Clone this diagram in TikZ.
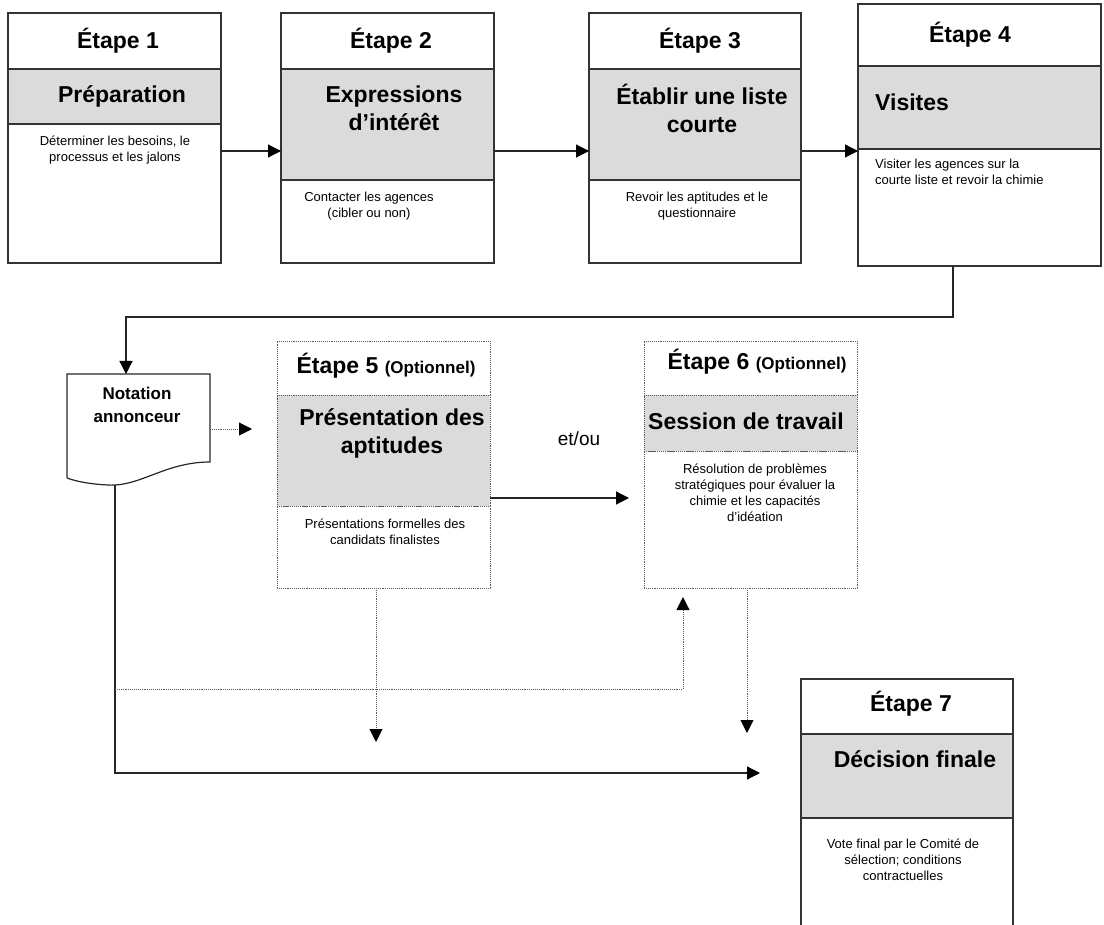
\documentclass[tikz,border=0pt]{standalone}
\usepackage{fontspec}
\setmainfont{Liberation Sans}
\usetikzlibrary{arrows.meta,positioning}

\begin{document}
\begin{tikzpicture}[x=1pt,y=-1pt,
    >={Triangle[length=13pt,width=13pt,color=black]},
    part/.style={draw=black!80, line width=1.2pt, rectangle, inner sep=0pt, outer sep=0pt, minimum width=213pt},
    optpart/.style={part, draw=black!65, line width=0.9pt, densely dotted},
    shade/.style={fill=black!14},
    stagelbl/.style={font=\fontsize{23}{28}\selectfont\bfseries, inner sep=0pt, align=center},
    desclbl/.style={font=\fontsize{13}{16}\selectfont, inner sep=0pt, align=center},
    flow/.style={draw=black!85, line width=1.2pt},
    optflow/.style={draw=black!65, line width=0.9pt, densely dotted}]
\useasboundingbox (0,0) rectangle (1104,925);
\clip (0,0) rectangle (1104,925);

\node[part, anchor=north west, minimum height=56pt] (h1) at (8,13) {};
\node[part, shade, minimum height=55pt, below=0pt of h1] (t1) {};
\node[part, minimum height=139pt, below=0pt of t1] (d1) {};
\node[part, anchor=north west, minimum height=56pt] (h2) at (281,13) {};
\node[part, shade, minimum height=111pt, below=0pt of h2] (t2) {};
\node[part, minimum height=83pt, below=0pt of t2] (d2) {};
\node[part, anchor=north west, minimum height=56pt, minimum width=212pt] (h3) at (589,13) {};
\node[part, shade, minimum height=111pt, minimum width=212pt, below=0pt of h3] (t3) {};
\node[part, minimum height=83pt, minimum width=212pt, below=0pt of t3] (d3) {};
\node[part, anchor=north west, minimum height=62pt, minimum width=243pt] (h4) at (858,4) {};
\node[part, shade, minimum height=83pt, minimum width=243pt, below=0pt of h4] (t4) {};
\node[part, minimum height=117pt, minimum width=243pt, below=0pt of t4] (d4) {};
\node[optpart, anchor=north west, minimum height=54pt] (h5) at (277,341) {};
\node[optpart, shade, minimum height=111pt, below=0pt of h5] (t5) {};
\node[optpart, minimum height=82pt, below=0pt of t5] (d5) {};
\node[optpart, anchor=north west, minimum height=54pt] (h6) at (644,341) {};
\node[optpart, shade, minimum height=56pt, below=0pt of h6] (t6) {};
\node[optpart, minimum height=137pt, below=0pt of t6] (d6) {};
\node[part, anchor=north west, minimum height=55pt, minimum width=212pt] (h7) at (801,679) {};
\node[part, shade, minimum height=84pt, minimum width=212pt, below=0pt of h7] (t7) {};
\node[part, minimum height=112pt, minimum width=212pt, below=0pt of t7] (d7) {};

\node[stagelbl] (e1) at (118,41) {Étape 1};
\node[stagelbl] (p1) at (122,96) {Préparation};
\node[desclbl] (s1) at (115,150) {Déterminer les besoins, le\\processus et les jalons};
\node[stagelbl] (e2) at (391,41) {Étape 2};
\node[stagelbl] (p2) at (394,108) {Expressions\\d’intérêt};
\node[desclbl] (s2) at (369,206) {Contacter les agences\\(cibler ou non)};
\node[stagelbl] (e3) at (700,41) {Étape 3};
\node[stagelbl] (p3) at (702,108) {Établir une liste\\courte};
\node[desclbl] (s3) at (697,206) {Revoir les aptitudes et le\\questionnaire};
\node[stagelbl] (e4) at (970,35) {Étape 4};
\node[stagelbl, anchor=west] (p4) at (875,102) {Visites};
\node[desclbl, align=left, anchor=west] (s4) at (875,172) {Visiter les agences sur la\\courte liste et revoir la chimie};
\node[stagelbl] (e5) at (386,366) {Étape 5 {\fontsize{17}{20}\selectfont(Optionnel)}};
\node[stagelbl] (p5) at (392,433) {Présentation des\\aptitudes};
\node[desclbl] (s5) at (385,532) {Présentations formelles des\\candidats finalistes};
\node[stagelbl] (e6) at (757,362) {Étape 6 {\fontsize{17}{20}\selectfont(Optionnel)}};
\node[stagelbl] (p6) at (746,421) {Session de travail};
\node[desclbl] (s6) at (755,493) {Résolution de problèmes\\stratégiques pour évaluer la\\chimie et les capacités\\d’idéation};
\node[stagelbl] (e7) at (911,704) {Étape 7};
\node[stagelbl] (p7) at (915,759) {Décision finale};
\node[desclbl] (s7) at (903,860) {Vote final par le Comité de\\sélection; conditions\\contractuelles};
\node[font=\fontsize{17}{23}\selectfont\bfseries, align=center, inner sep=0pt] (nota) at (137,405) {Notation\\annonceur};
\node[font=\fontsize{19}{22}\selectfont, inner sep=0pt] (etou) at (579,439) {et/ou};

\draw[flow] (67,478) -- (67,374) -- (210,374) -- (210,462)
    .. controls (165,462) and (140,487) .. (108,485)
    .. controls (88,484) and (75,481) .. (67,478);

\coordinate (row) at (0,151);
\coordinate (bend4) at (953,317);
\coordinate (ntop) at (126,374);
\coordinate (nright) at (210,429);
\coordinate (ntip) at (252,429);
\coordinate (nbot) at (115,485);
\coordinate (corner) at (115,773);
\coordinate (into7) at (760,773);
\coordinate (split) at (115,689);
\coordinate (up6) at (683,597);
\coordinate (tip6) at (629,498);
\coordinate (drop5) at (376,742);
\coordinate (drop6) at (747,733);

\draw[flow, ->] (d1.east |- row) -- (t2.west |- row);
\draw[flow, ->] (t2.east |- row) -- (t3.west |- row);
\draw[flow, ->] (t3.east |- row) -- (t4.west |- row);
\draw[flow, ->] (d4.south -| bend4) -- (bend4) -- (bend4 -| ntop) -- (ntop);
\draw[optflow, ->] (nright) -- (ntip);
\draw[flow, ->] (t5.east |- tip6) -- (tip6);
\draw[flow, ->] (nbot) -- (corner) -- (into7);
\draw[optflow, ->] (split) -- (split -| up6) -- (up6);
\draw[optflow, ->] (d5.south -| drop5) -- (drop5);
\draw[optflow, ->] (d6.south -| drop6) -- (drop6);
\end{tikzpicture}
\end{document}
